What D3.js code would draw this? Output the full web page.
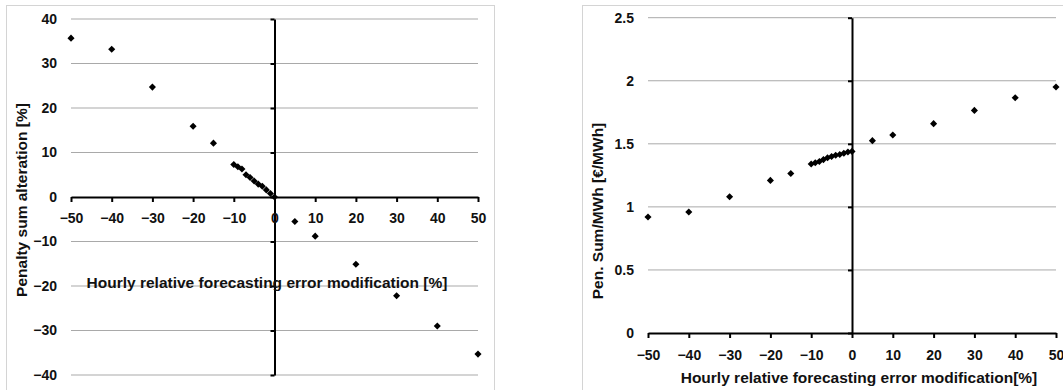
<!DOCTYPE html>
<html lang="en">
<head>
    <meta charset="UTF-8">
    <title>Penalty sum vs forecasting error modification</title>
    <script src="https://d3js.org/d3.v7.min.js"></script>
    <style>
        body, html {
            margin: 0;
            background-color: #ffffff;
            font-family: 'Liberation Sans', Arial, sans-serif;
        }
        svg text {
            font-weight: bold;
            fill: #111;
        }
    </style>
</head>
<body>
<svg id="chart" width="1063" height="390"></svg>

<script>
    // x values: hourly relative forecasting error modification [%]
    const errorMod = [-50, -40, -30, -20, -15, -10, -9, -8, -7, -6, -5, -4, -3, -2, -1, 0, 5, 10, 20, 30, 40, 50];

    // left chart: penalty sum alteration [%]
    const penaltyAlteration = [35.7, 33.2, 24.7, 15.9, 12.1, 7.3, 6.8, 6.3, 5.0, 4.4, 3.6, 2.9, 2.4, 1.6, 0.8, 0,
        -5.5, -8.8, -15.1, -22.2, -29.0, -35.3];

    // right chart: pen. sum / MWh [€/MWh]
    const penSumPerMWh = [0.92, 0.96, 1.08, 1.21, 1.265, 1.34, 1.35, 1.36, 1.375, 1.39, 1.40, 1.41, 1.415, 1.425, 1.435, 1.44,
        1.525, 1.57, 1.66, 1.765, 1.865, 1.95];

    const xTicks = [-50, -40, -30, -20, -10, 0, 10, 20, 30, 40, 50];
    const leftYTicks = [-40, -30, -20, -10, 0, 10, 20, 30, 40];
    const rightYTicks = [0, 0.5, 1, 1.5, 2, 2.5];

    const svg = d3.select('#chart');
    const fontFamily = "'Liberation Sans', Arial, sans-serif";
    const fmt = d3.format('~g');

    const charts = [
        {
            frame: { x: 6.5, y: 5.5, w: 488, h: 400 },
            xRange: [71, 478], yRange: [375, 19], yDomain: [-40, 40],
            yTicks: leftYTicks, labelPad: 11,
            values: penaltyAlteration,
            yTitle: 'Penalty sum alteration [%]', yTitlePos: [22, 200],
            xTitle: 'Hourly relative forecasting error modification [%]', xTitlePos: [267, 288]
        },
        {
            frame: { x: 582.5, y: 5.5, w: 500, h: 400 },
            xRange: [648, 1056], yRange: [333, 17.7], yDomain: [0, 2.5],
            yTicks: rightYTicks, labelPad: 12,
            values: penSumPerMWh,
            yTitle: 'Pen. Sum/MWh [€/MWh]', yTitlePos: [598, 211],
            xTitle: 'Hourly relative forecasting error modification[%]', xTitlePos: [859, 383]
        }
    ];

    charts.forEach(c => {
        const x = d3.scaleLinear().domain([-50, 50]).range(c.xRange);
        const y = d3.scaleLinear().domain(c.yDomain).range(c.yRange);

        // outer frame
        svg.append('rect')
            .attr('x', c.frame.x).attr('y', c.frame.y)
            .attr('width', c.frame.w).attr('height', c.frame.h)
            .attr('fill', 'none')
            .attr('stroke', '#d4d4d4');

        // gridlines
        svg.append('g')
            .selectAll('line')
            .data(c.yTicks.filter(t => t !== 0))
            .join('line')
            .attr('x1', c.xRange[0]).attr('x2', c.xRange[1])
            .attr('y1', d => y(d)).attr('y2', d => y(d))
            .attr('stroke', '#a9a9a9')
            .attr('stroke-width', 1);

        // y tick labels on the far left
        const yLab = svg.append('g')
            .attr('transform', `translate(${c.xRange[0] - 14},0)`)
            .call(d3.axisLeft(y).tickValues(c.yTicks).tickFormat(fmt).tickSize(0).tickPadding(0));
        yLab.select('.domain').remove();
        yLab.selectAll('text')
            .style('font-size', '14px')
            .style('font-family', fontFamily);

        // vertical axis at x = 0
        const yAx = svg.append('g')
            .attr('transform', `translate(${x(0)},0)`)
            .call(d3.axisLeft(y).tickValues(c.yTicks).tickFormat('').tickSize(4).tickSizeOuter(0));
        yAx.selectAll('path, line').attr('stroke', '#000').attr('stroke-width', 2);

        // horizontal axis at y = 0
        const xAx = svg.append('g')
            .attr('transform', `translate(0,${y(0)})`)
            .call(d3.axisBottom(x).tickValues(xTicks).tickFormat(fmt).tickSize(5).tickSizeOuter(0).tickPadding(c.labelPad));
        xAx.selectAll('path, line').attr('stroke', '#000').attr('stroke-width', 2);
        xAx.selectAll('text')
            .style('font-size', '14px')
            .style('font-family', fontFamily);

        // points
        svg.append('g')
            .selectAll('path')
            .data(errorMod.map((e, i) => [e, c.values[i]]))
            .join('path')
            .attr('transform', d => `translate(${x(d[0])},${y(d[1])})`)
            .attr('d', d3.symbol(d3.symbolDiamond2, 32))
            .attr('fill', '#000');

        // titles
        svg.append('text')
            .attr('transform', `translate(${c.yTitlePos[0]},${c.yTitlePos[1]}) rotate(-90)`)
            .attr('text-anchor', 'middle')
            .attr('dy', '0.35em')
            .style('font-size', '15.5px')
            .text(c.yTitle);

        svg.append('text')
            .attr('x', c.xTitlePos[0]).attr('y', c.xTitlePos[1])
            .attr('text-anchor', 'middle')
            .style('font-size', '15.5px')
            .text(c.xTitle);
    });
</script>
</body>
</html>
